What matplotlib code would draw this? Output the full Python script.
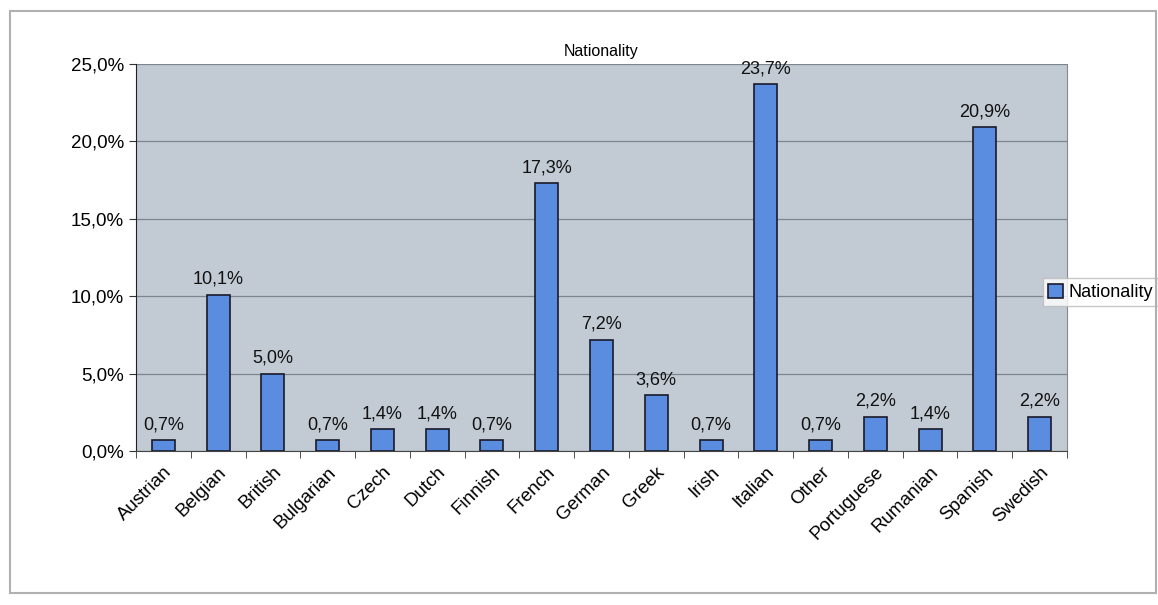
import matplotlib
matplotlib.use("Agg")
import matplotlib.pyplot as plt
from matplotlib.patches import Rectangle
import numpy as np

categories = ["Austrian", "Belgian", "British", "Bulgarian", "Czech", "Dutch", "Finnish",
              "French", "German", "Greek", "Irish", "Italian", "Other", "Portuguese",
              "Rumanian", "Spanish", "Swedish"]
values = [0.7, 10.1, 5.0, 0.7, 1.4, 1.4, 0.7, 17.3, 7.2, 3.6, 0.7, 23.7, 0.7, 2.2, 1.4, 20.9, 2.2]
yticks = [0, 5, 10, 15, 20, 25]

plt.rcParams['font.family'] = ['Liberation Sans', 'DejaVu Sans']

fig = plt.figure(figsize=(11.58, 6.05), dpi=100)
fig.patch.set_facecolor('white')
# outer chart frame
fig.patches.append(Rectangle((10/1158, 12/605), (1156-10)/1158, (594-12)/605,
                             transform=fig.transFigure, fill=False,
                             edgecolor='#b0b0b0', linewidth=1.5))

ax = fig.add_axes([136/1158, 1-451/605, (1067-136)/1158, (451-64)/605])
ax.set_facecolor('#c2cad3')
x = np.arange(len(categories))
bars = ax.bar(x, values, width=0.42, color='#5a8de0', edgecolor='#1a1a2a', linewidth=1.2,
              label='Nationality', zorder=3)
for xi, v in zip(x, values):
    ax.text(xi, v + 0.45, f"{v:.1f}%".replace('.', ','), ha='center', va='bottom',
            fontsize=13, color='#111111', zorder=4)

ax.set_xlim(-0.5, len(categories) - 0.5)
ax.set_ylim(0, 25)
ax.set_yticks(yticks)
ax.set_yticklabels([f"{t:.1f}%".replace('.', ',') for t in yticks], fontsize=13.5)
ax.yaxis.grid(True, color='#7d8590', linewidth=0.9, zorder=0)
ax.set_axisbelow(True)

ax.set_xticks(x)
ax.set_xticklabels(categories, rotation=45, ha='right', rotation_mode='anchor', fontsize=13.5)
ax.tick_params(axis='x', length=0, pad=9)
ax.set_xticks(np.arange(-0.5, len(categories)), minor=True)
ax.tick_params(axis='x', which='minor', length=5, direction='out', color='#333333')
ax.tick_params(axis='y', length=5, direction='out', color='#333333')

ax.spines['top'].set_visible(False)
ax.spines['right'].set_color('#888888')
ax.spines['left'].set_color('#222222')
ax.spines['bottom'].set_color('#444444')

ax.set_title('Nationality', fontsize=11.5, pad=6)

leg = ax.legend(loc='center left', bbox_to_anchor=((1043-136)/(1067-136), 0.41),
                fontsize=13, frameon=True, fancybox=False, edgecolor='#bbbbbb',
                handlelength=0.8, handleheight=0.8, handletextpad=0.3, borderpad=0.3,
                borderaxespad=0)
leg.get_frame().set_facecolor('white')
leg.get_frame().set_linewidth(1.0)

fig.savefig('out.png', dpi=100)
